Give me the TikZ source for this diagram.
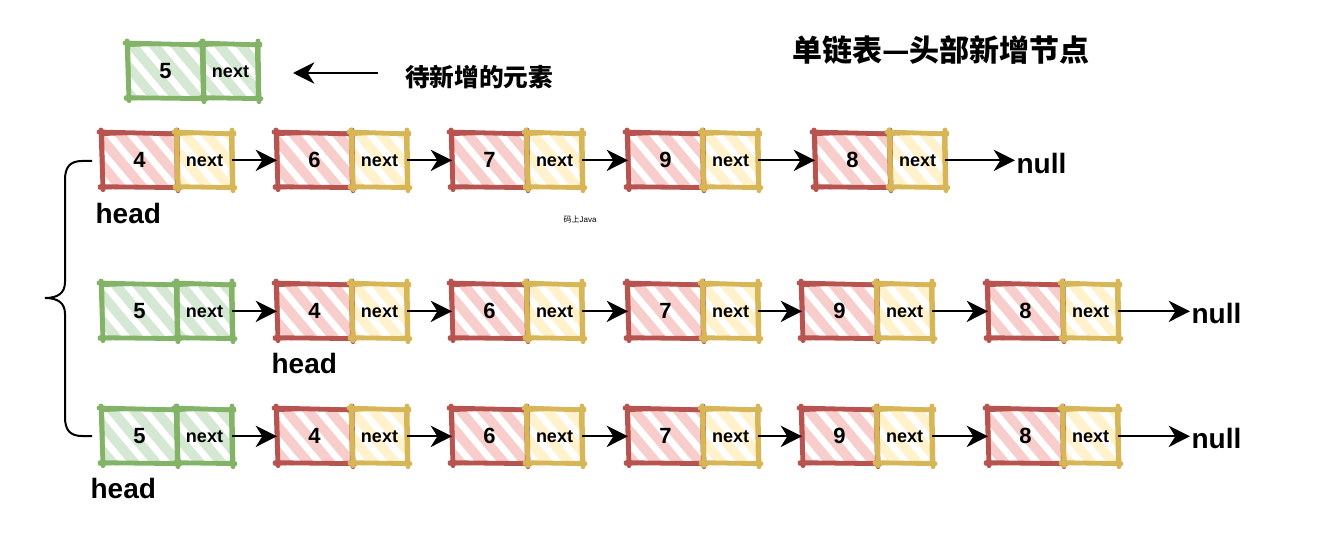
\documentclass[tikz,border=0pt]{standalone}
\usepackage{fontspec}
\setmainfont{Liberation Sans}
\newfontfamily\cjk{Noto Sans CJK SC}
\usetikzlibrary{patterns.meta,arrows.meta}
\definecolor{rl}{HTML}{B85450}\definecolor{rf}{HTML}{F8CECC}
\definecolor{yl}{HTML}{D6B656}\definecolor{yf}{HTML}{FFF2CC}
\definecolor{gl}{HTML}{82B366}\definecolor{gf}{HTML}{D5E8D4}
\tikzset{
  cell/.style={rectangle, inner sep=0pt, outer sep=0pt, draw=none,
    minimum height=41pt,
    pattern={Lines[angle=-50,distance=12.5pt,line width=5pt]}, pattern color=white},
  valcell/.style={cell, minimum width=56.25pt, font=\bfseries\fontsize{16.5}{16.5}\selectfont},
  nextcell/.style={cell, minimum width=41.25pt, font=\bfseries\fontsize{13.5}{13.5}\selectfont},
  redc/.style={preaction={fill=rf}},
  yelc/.style={preaction={fill=yf}},
  grnc/.style={preaction={fill=gf}},
  skA/.style={line width=3.6pt, line cap=round},
  skB/.style={line width=1.6pt, line cap=round},
  link/.style={-{Stealth[length=16pt,width=16pt,inset=5pt]}, line width=1.5pt},
  bigtxt/.style={inner sep=1pt, font=\bfseries\fontsize{21}{21}\selectfont},
}
% hand-drawn looking border round a named node
\newcommand\skb[2]{%
  \draw[skA,#2] ([shift={(-3,-1)}]#1.north west) -- ([shift={(2,1)}]#1.north east)
                ([shift={(0,-3)}]#1.north east) -- ([shift={(1,3)}]#1.south east)
                ([shift={(3,0)}]#1.south east) -- ([shift={(-2,-1)}]#1.south west)
                ([shift={(1,2)}]#1.south west) -- ([shift={(-1,-3)}]#1.north west);
  \draw[skB,#2] ([shift={(-1,2)}]#1.north west) -- ([shift={(3,-1)}]#1.north east)
                ([shift={(-2,1)}]#1.north east) -- ([shift={(-1,-1)}]#1.south east)
                ([shift={(1,-2)}]#1.south east) -- ([shift={(-3,1)}]#1.south west)
                ([shift={(2,-1)}]#1.south west) -- ([shift={(1,-2)}]#1.north west);
}
\newcommand\llcell[8]{% name, x, top, value, fillA, lineA, fillB, lineB
  \node[valcell,#5,anchor=north west] (#1) at (#2,#3) {\raisebox{-2.5pt}{#4}};
  \node[nextcell,#7,anchor=west] (#1-n) at (#1.east) {\raisebox{-3pt}{next}};
  \skb{#1}{#6}
  \skb{#1-n}{#8}
}
\newcommand\rcell[4]{\llcell{#1}{#2}{#3}{#4}{redc}{rl}{yelc}{yl}}
\newcommand\gcell[4]{\llcell{#1}{#2}{#3}{#4}{grnc}{gl}{grnc}{gl}}
\begin{document}
\begin{tikzpicture}[x=0.75pt,y=-0.75pt]
\useasboundingbox (0,0) rectangle (1321,549);
\fill[white] (0,0) rectangle (1321,549);

% title
\node[anchor=west, inner sep=0pt, font=\cjk\bfseries\fontsize{22.5}{22.5}\selectfont] (title) at (792,50) {单链表—头部新增节点};

% element to add
\gcell{top}{128}{44}{5}
\node[anchor=west, inner sep=0pt, font=\cjk\bfseries\fontsize{18.5}{18.5}\selectfont] (lbl) at (405,77) {待新增的元素};
\coordinate (tas) at (378,73);
\coordinate (tae) at (293,73);
\draw[link] (tas) -- (tae);

% row 1
\rcell{a1}{102}{133}{4}
\rcell{a2}{277}{133}{6}
\rcell{a3}{452}{133}{7}
\rcell{a4}{628}{133}{9}
\rcell{a5}{815}{133}{8}
\node[bigtxt, anchor=west] (null1) at (1015,163) {null};
\draw[link] (a1-n.east) -- (a2.west);
\draw[link] (a2-n.east) -- (a3.west);
\draw[link] (a3-n.east) -- (a4.west);
\draw[link] (a4-n.east) -- (a5.west);
\draw[link] (a5-n.east) -- (a5-n.east -| null1.west);
\node[bigtxt, anchor=west] (h1) at (94,213) {head};

% watermark
\node[inner sep=0pt, font=\fontsize{6}{6}\selectfont] (wm) at (580,220) {{\cjk 码上}Java};

% row 2
\gcell{b0}{102}{284}{5}
\rcell{b1}{277}{284}{4}
\rcell{b2}{452}{284}{6}
\rcell{b3}{628}{284}{7}
\rcell{b4}{802}{284}{9}
\rcell{b5}{988}{284}{8}
\node[bigtxt, anchor=west] (null2) at (1190,313) {null};
\draw[link] (b0-n.east) -- (b1.west);
\draw[link] (b1-n.east) -- (b2.west);
\draw[link] (b2-n.east) -- (b3.west);
\draw[link] (b3-n.east) -- (b4.west);
\draw[link] (b4-n.east) -- (b5.west);
\draw[link] (b5-n.east) -- (b5-n.east -| null2.west);
\node[bigtxt, anchor=west] (h2) at (270,363) {head};

% row 3
\gcell{c0}{102}{409}{5}
\rcell{c1}{277}{409}{4}
\rcell{c2}{452}{409}{6}
\rcell{c3}{628}{409}{7}
\rcell{c4}{802}{409}{9}
\rcell{c5}{988}{409}{8}
\node[bigtxt, anchor=west] (null3) at (1190,438) {null};
\draw[link] (c0-n.east) -- (c1.west);
\draw[link] (c1-n.east) -- (c2.west);
\draw[link] (c2-n.east) -- (c3.west);
\draw[link] (c3-n.east) -- (c4.west);
\draw[link] (c4-n.east) -- (c5.west);
\draw[link] (c5-n.east) -- (c5-n.east -| null3.west);
\node[bigtxt, anchor=west] (h3) at (89,488) {head};

% brace
\draw[line width=1.5pt] (92,161) -- (82,161) .. controls (70,161) and (65,167) .. (65,180)
  -- (65,282) .. controls (65,293) and (58,298) .. (45,298)
  .. controls (58,298) and (65,303) .. (65,314)
  -- (65,417) .. controls (65,430) and (70,436) .. (82,436) -- (92,436);
\end{tikzpicture}
\end{document}
